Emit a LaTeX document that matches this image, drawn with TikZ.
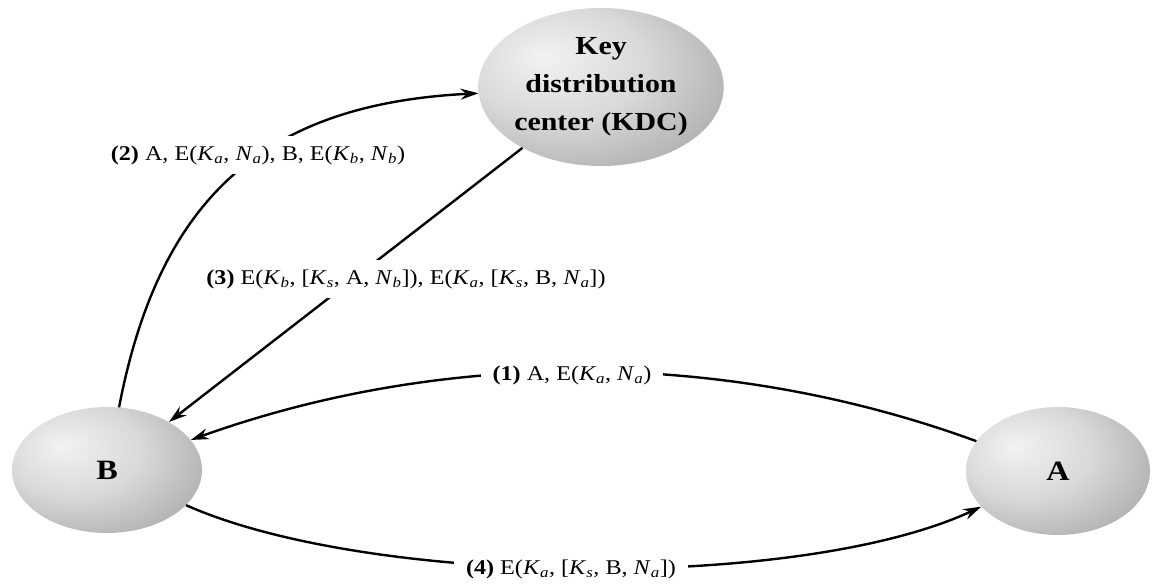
\documentclass[tikz,border=0pt]{standalone}
\usepackage{fontspec}
\setmainfont[FakeStretch=1.15]{Liberation Serif}
\usetikzlibrary{shapes.geometric,arrows.meta}
\pgfdeclareradialshading{ballshade}{\pgfpoint{-12bp}{10bp}}{color(0bp)=(black!5); color(18bp)=(black!15); color(42bp)=(black!38); color(70bp)=(black!55)}
\newcommand{\KS}[1]{\textit{K}\textsubscript{\textit{#1}}}
\newcommand{\NS}[1]{\textit{N}\textsubscript{\textit{#1}}}
\tikzset{
  party/.style={ellipse, shading=ballshade, inner sep=0pt, align=center,
    font=\bfseries\fontsize{28}{30}\selectfont},
  msg/.style={fill=white, inner xsep=12pt, inner ysep=9pt,
    font=\fontsize{21}{25}\selectfont},
  flow/.style={line width=2.4pt, -{Stealth[length=18pt,width=11pt]}},
}
\begin{document}
\begin{tikzpicture}[x=1pt,y=-1pt]
\useasboundingbox (0,0) rectangle (1157,586);
\node[party, minimum width=222pt, minimum height=158pt,
  font=\bfseries\fontsize{26}{38}\selectfont] (KDC) at (601,87)
  {Key\\distribution\\center (KDC)};
\node[party, minimum width=190pt, minimum height=126pt] (B) at (107,470) {B};
\node[party, minimum width=184pt, minimum height=128pt] (A) at (1058,471) {A};

\draw[flow] (B) .. controls (160,194) and (268,104) .. (KDC);
\draw[flow] (KDC) -- (B);
\draw[flow] (A) .. controls (727,350) and (447,348) .. (B);
\draw[flow] (B) .. controls (370,587) and (800,591) .. (A);

\node[msg] (m2) at (258,155) {\textbf{(2)} A, E(\KS{a}, \NS{a}), B, E(\KS{b}, \NS{b})};
\node[msg] (m3) at (406,279) {\textbf{(3)} E(\KS{b}, [\KS{s}, A, \NS{b}]), E(\KS{a}, [\KS{s}, B, \NS{a}])};
\node[msg] (m1) at (572,375) {\textbf{(1)} A, E(\KS{a}, \NS{a})};
\node[msg] (m4) at (571,569) {\textbf{(4)} E(\KS{a}, [\KS{s}, B, \NS{a}])};
\end{tikzpicture}
\end{document}
